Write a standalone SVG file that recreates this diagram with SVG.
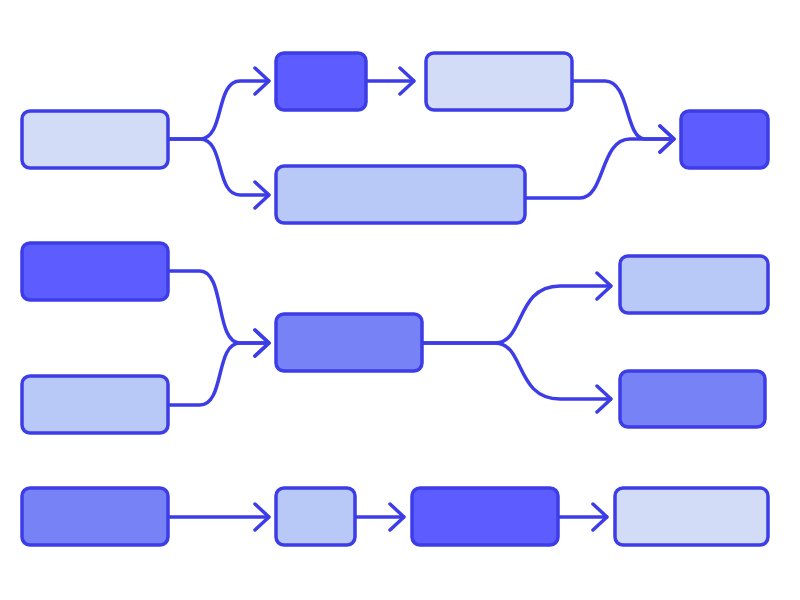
<svg xmlns="http://www.w3.org/2000/svg" width="800" height="600" viewBox="0 0 800 600">
<style>
rect{stroke:#3d3de8;stroke-width:3.5}
.l{fill:#d3dcf7}.m{fill:#b8c8f7}.p{fill:#7782f7}.d{fill:#5c5cff}
#edges path{fill:none;stroke:#3d3de8;stroke-width:3.5;stroke-linejoin:round}
</style>
<defs><marker id="ar" viewBox="0 0 20 30" refX="18" refY="15" markerWidth="20" markerHeight="30" markerUnits="userSpaceOnUse" orient="auto"><path d="M3,2 L17,15 L3,28" fill="none" stroke="#3d3de8" stroke-width="3.5" stroke-linecap="round" stroke-linejoin="round"/></marker></defs>
<g id="edges">
<path d="M168,139 H200 C225,139 215,81 240,81 H270" marker-end="url(#ar)"/>
<path d="M168,139 H200 C225,139 215,195 240,195 H270" marker-end="url(#ar)"/>
<path d="M366,81 H415" marker-end="url(#ar)"/>
<path d="M572,81 H605 C630,81 625,139 645,139 H675" marker-end="url(#ar)"/>
<path d="M525,198 H580 C605,198 600,139 630,139 H675" marker-end="url(#ar)"/>
<path d="M168,271 H200 C225,271 215,343 240,343 H270" marker-end="url(#ar)"/>
<path d="M168,405 H200 C225,405 215,343 240,343 H270" marker-end="url(#ar)"/>
<path d="M422,343 H495 C525,343 515,286 560,286 H612" marker-end="url(#ar)"/>
<path d="M422,343 H495 C525,343 515,399 560,399 H612" marker-end="url(#ar)"/>
<path d="M168,517 H270" marker-end="url(#ar)"/>
<path d="M355,517 H405" marker-end="url(#ar)"/>
<path d="M558,517 H608" marker-end="url(#ar)"/>
</g>
<g id="nA"><rect class="l" x="22" y="111" width="146" height="57" rx="8"/></g>
<g id="nB"><rect class="d" x="276" y="53" width="90" height="57" rx="8"/></g>
<g id="nC"><rect class="l" x="426" y="53" width="146" height="57" rx="8"/></g>
<g id="nD"><rect class="m" x="276" y="166" width="249" height="57" rx="8"/></g>
<g id="nE"><rect class="d" x="681" y="111" width="87" height="57" rx="8"/></g>
<g id="nF"><rect class="d" x="22" y="243" width="146" height="57" rx="8"/></g>
<g id="nG"><rect class="m" x="22" y="376" width="146" height="57" rx="8"/></g>
<g id="nH"><rect class="p" x="276" y="314" width="146" height="57" rx="8"/></g>
<g id="nI"><rect class="m" x="620" y="256" width="148" height="57" rx="8"/></g>
<g id="nJ"><rect class="p" x="620" y="371" width="145" height="56" rx="8"/></g>
<g id="nK"><rect class="p" x="22" y="488" width="146" height="57" rx="8"/></g>
<g id="nL"><rect class="m" x="276" y="488" width="79" height="57" rx="8"/></g>
<g id="nM"><rect class="d" x="412" y="488" width="146" height="57" rx="8"/></g>
<g id="nN"><rect class="l" x="615" y="488" width="153" height="57" rx="8"/></g>
</svg>
